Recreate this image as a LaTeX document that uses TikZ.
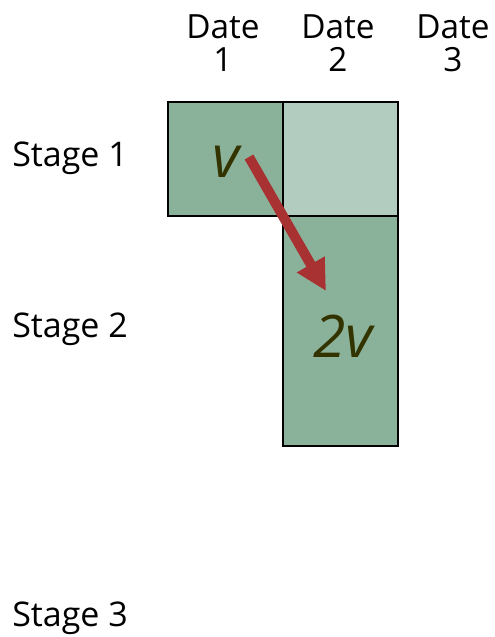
\documentclass[tikz,border=0pt]{standalone}
\usepackage{fontspec}
\setmainfont{Open Sans}
\usetikzlibrary{arrows.meta}
\definecolor{dgreen}{HTML}{8AB29A}
\definecolor{lgreen}{HTML}{B2CDBF}
\definecolor{arrred}{HTML}{A83232}
\definecolor{vtext}{HTML}{333300}
\tikzset{
  cell/.style={draw=black, line width=1.3pt},
  lbl/.style={font=\fontsize{25pt}{24.5pt}\selectfont, inner sep=0pt, align=center},
  stagelbl/.style={font=\fontsize{25.5pt}{28pt}\selectfont, inner sep=0pt, anchor=base west},
  vlbl/.style={font=\fontsize{44pt}{48pt}\selectfont\itshape, text=vtext, inner sep=0pt, anchor=base west},
}
\begin{document}
\begin{tikzpicture}[x=0.75pt, y=-0.75pt]
\useasboundingbox (0,0) rectangle (495,637);
% cells
\fill[dgreen] (168,102) rectangle (283,216);
\fill[lgreen] (283,102) rectangle (398,216);
\fill[dgreen] (283,216) rectangle (398,446);
\draw[cell] (168,102) rectangle (283,216);
\draw[cell] (283,102) rectangle (398,216);
\draw[cell] (283,216) rectangle (398,446);
% headers
\node[lbl] (d1) at (223,43) {Date\\1};
\node[lbl] (d2) at (338,43) {Date\\2};
\node[lbl] (d3) at (453,43) {Date\\3};
% stage labels
\node[stagelbl] (s1) at (12,166.7) {Stage 1};
\node[stagelbl] (s2) at (12,337.3) {Stage 2};
\node[stagelbl] (s3) at (12,626) {Stage 3};
% values
\node[vlbl] (v1) at (212,177) {v};
\node[vlbl] (v2) at (313,357) {2v};
% arrow
\coordinate (as) at (249,157);
\coordinate (ae) at (326,291);
\draw[arrred, line width=7.5pt, -{Triangle[length=23pt,width=22.5pt]}] (as) -- (ae);
\end{tikzpicture}
\end{document}
